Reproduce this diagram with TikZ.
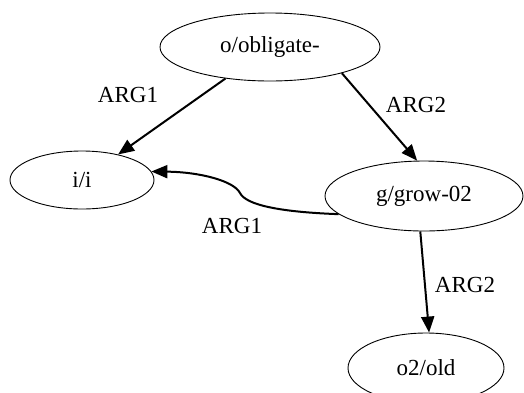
\documentclass[tikz,border=0pt]{standalone}
\usepackage{fontspec}
\setmainfont{Liberation Serif}
\usetikzlibrary{arrows.meta,shapes.geometric}

\tikzset{
	Concept/.style = {draw, ellipse, line width=0.9pt, inner sep=0pt, font=\fontsize{23}{27}\selectfont},
	Role/.style = {font=\fontsize{23}{27}\selectfont},
	RoleEdge/.style = {line width=2pt, -{Triangle[length=16pt, width=13pt]}}
}

\begin{document}
\begin{tikzpicture}[x=1pt, y=-1pt]
	\useasboundingbox (0,0) rectangle (524,392);
	% concepts
		\node[Concept, minimum width=220pt, minimum height=68pt] (obl) at (270,47) {o/obligate-};
		\node[Concept, minimum width=144pt, minimum height=58pt] (i) at (82,180) {i/i};
		\node[Concept, minimum width=198pt, minimum height=70pt] (grow) at (424,196) {g/grow-02};
		\node[Concept, minimum width=156pt, minimum height=70pt] (old) at (426,368) {o2/old};
	% roles
		\draw[RoleEdge] (obl) -- (i);
		\draw[RoleEdge] (obl.-20) -- (grow.101);
		\draw[RoleEdge] (grow.192) .. controls (280,212) and (246,205) .. (240,193)
			.. controls (234,181) and (200,172) .. (i.7);
		\draw[RoleEdge] (grow.-96) -- (old.85);
	% labels
		\node[Role] (l1) at (128,95) {ARG1};
		\node[Role] (l2) at (416,105) {ARG2};
		\node[Role] (l3) at (232,226) {ARG1};
		\node[Role] (l4) at (465,285) {ARG2};
\end{tikzpicture}
\end{document}
